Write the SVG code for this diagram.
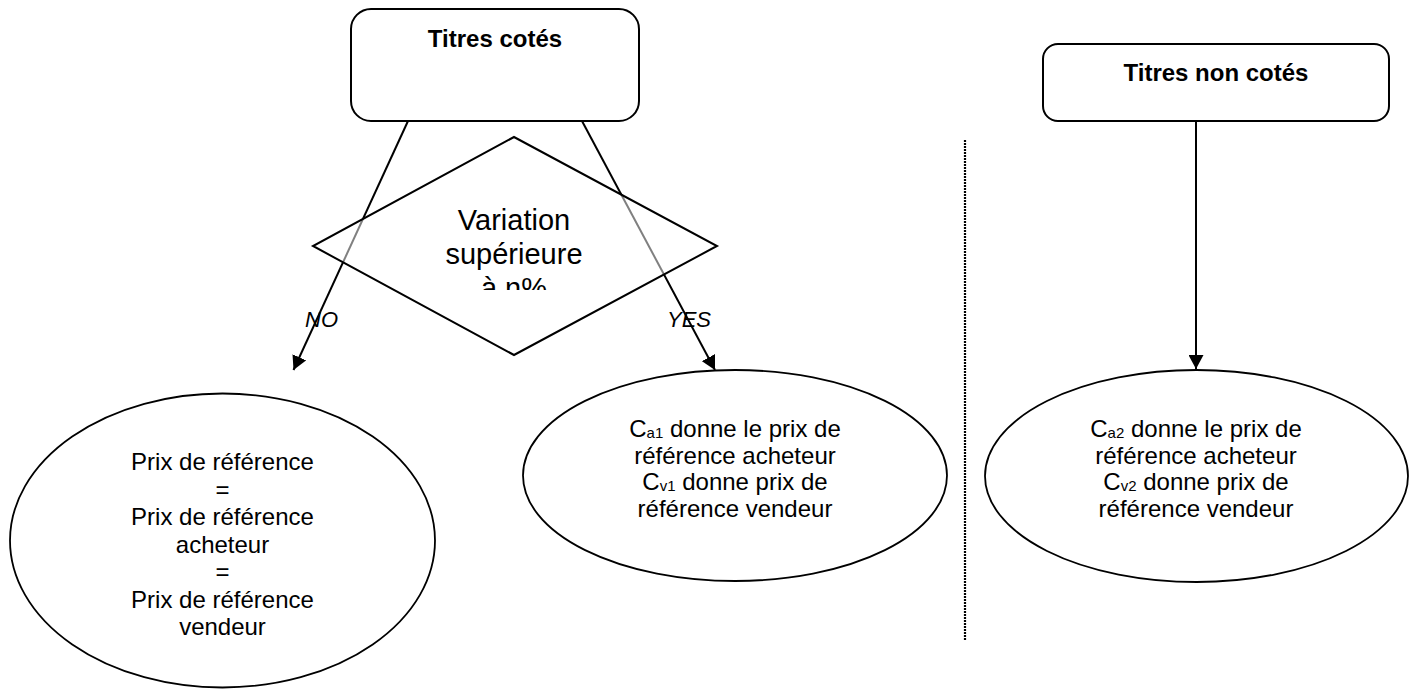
<svg xmlns="http://www.w3.org/2000/svg" width="1415" height="690" viewBox="0 0 1415 690">
<style>
  .shape { fill: #fff; stroke: #000; stroke-width: 2; }
  .ell { fill: #fff; stroke: #000; stroke-width: 1.8; }
  .conn { fill: none; stroke: #000; stroke-width: 2; }
  .t { font-family: "Liberation Sans", Arial, sans-serif; font-size: 24px; fill: #000; text-anchor: middle; }
  .b { font-weight: bold; }
  .d { font-size: 29px; }
  .lbl { font-family: "Liberation Sans", Arial, sans-serif; font-size: 22px; font-style: italic; fill: #000; }
  .sub { font-size: 15px; }
</style>
<defs>
  <marker id="arrow" markerUnits="userSpaceOnUse" markerWidth="15" markerHeight="15" refX="14" refY="7.5" orient="auto">
    <path d="M0,0 L14,7.5 L0,15 z" fill="#000"/>
  </marker>
  <clipPath id="dclip"><rect x="320" y="140" width="390" height="150"/></clipPath>
</defs>
<rect width="1415" height="690" fill="#fff"/>

<g id="node-titres-cotes">
  <rect class="shape" x="351" y="9" width="288" height="112" rx="20" ry="20"/>
  <text class="t b" x="495" y="47">Titres cotés</text>
</g>

<g id="node-titres-non-cotes">
  <rect class="shape" x="1043" y="44" width="346" height="77" rx="15" ry="15"/>
  <text class="t b" x="1216" y="81">Titres non cotés</text>
</g>

<g id="connectors">
  <line class="conn" x1="408" y1="121" x2="293.5" y2="370" marker-end="url(#arrow)"/>
  <line class="conn" x1="582" y1="121" x2="715" y2="370" marker-end="url(#arrow)"/>
  <line class="conn" x1="1196" y1="121" x2="1196" y2="369" marker-end="url(#arrow)"/>
</g>

<g id="node-variation">
  <polygon points="514,137 717,246 514,355 313,246" fill="#fff" fill-opacity="0.5" stroke="#000" stroke-width="2"/>
  <g clip-path="url(#dclip)">
    <text class="t d" x="514" y="230">Variation</text>
    <text class="t d" x="514" y="264">supérieure</text>
    <text class="t d" x="514" y="298">à n%</text>
  </g>
</g>

<g id="label-no"><text class="lbl" x="305" y="327">NO</text></g>
<g id="label-yes"><text class="lbl" x="667" y="327">YES</text></g>

<g id="node-prix-reference">
  <ellipse class="ell" cx="222.5" cy="540.5" rx="212.5" ry="147"/>
  <text class="t" x="222.5" y="470">Prix de référence</text>
  <text class="t" x="222.5" y="497.5">=</text>
  <text class="t" x="222.5" y="525">Prix de référence</text>
  <text class="t" x="222.5" y="552.5">acheteur</text>
  <text class="t" x="222.5" y="580">=</text>
  <text class="t" x="222.5" y="607.5">Prix de référence</text>
  <text class="t" x="222.5" y="635">vendeur</text>
</g>

<g id="node-ca1">
  <ellipse class="ell" cx="735" cy="475.5" rx="212" ry="105.5"/>
  <text class="t" x="735" y="437">C<tspan class="sub" dy="1">a1</tspan><tspan dy="-1"> donne le prix de</tspan></text>
  <text class="t" x="735" y="463.5">référence acheteur</text>
  <text class="t" x="735" y="490">C<tspan class="sub" dy="1">v1</tspan><tspan dy="-1"> donne prix de</tspan></text>
  <text class="t" x="735" y="516.5">référence vendeur</text>
</g>

<g id="node-ca2">
  <ellipse class="ell" cx="1196.5" cy="476" rx="211.5" ry="106"/>
  <text class="t" x="1196" y="437">C<tspan class="sub" dy="1">a2</tspan><tspan dy="-1"> donne le prix de</tspan></text>
  <text class="t" x="1196" y="463.5">référence acheteur</text>
  <text class="t" x="1196" y="490">C<tspan class="sub" dy="1">v2</tspan><tspan dy="-1"> donne prix de</tspan></text>
  <text class="t" x="1196" y="516.5">référence vendeur</text>
</g>

<g id="divider">
  <line x1="965" y1="140" x2="965" y2="640" stroke="#000" stroke-width="2.2" stroke-dasharray="2 1"/>
</g>
</svg>
